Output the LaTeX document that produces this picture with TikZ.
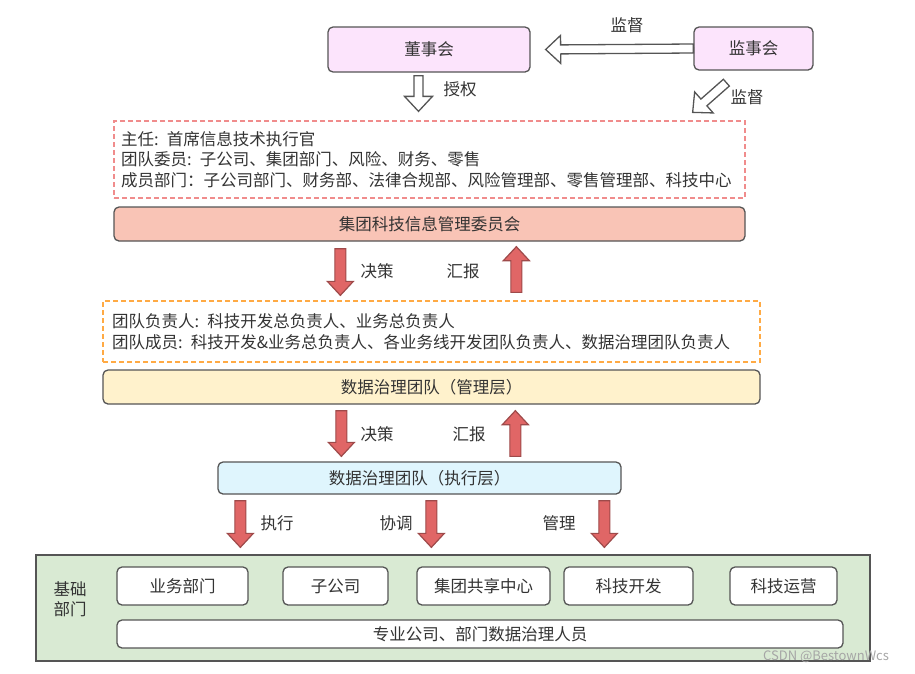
\documentclass[tikz,border=0pt]{standalone}
\usepackage{fontspec}
\newfontfamily\cjk{Noto Sans CJK SC}
\usetikzlibrary{calc, positioning}
\definecolor{txtgray}{HTML}{333333}
\definecolor{edgegray}{HTML}{555555}
\definecolor{pinkfill}{HTML}{FCE4FC}
\definecolor{salmonfill}{HTML}{F9C4B6}
\definecolor{yellowfill}{HTML}{FFF2CC}
\definecolor{cyanfill}{HTML}{DFF5FD}
\definecolor{greenfill}{HTML}{D9EAD3}
\definecolor{reddash}{HTML}{F08C8C}
\definecolor{orangedash}{HTML}{FFAA44}
\definecolor{arrowred}{HTML}{E06666}
\definecolor{arrowedge}{HTML}{9E4A4A}

% block arrow: style, shaft half width, head half width, head length, from, to
\newcommand{\blockarrow}[6]{%
  \coordinate (ba-s) at (#5);
  \coordinate (ba-e) at (#6);
  \coordinate (ba-b) at ($(ba-e)!#4!(ba-s)$);
  \draw[#1] ($(ba-s)!#2!90:(ba-e)$) -- ($(ba-b)!#2!-90:(ba-s)$) -- ($(ba-b)!#3!-90:(ba-s)$)
    -- (ba-e) -- ($(ba-b)!#3!90:(ba-s)$) -- ($(ba-b)!#2!90:(ba-s)$) -- ($(ba-s)!#2!-90:(ba-e)$) -- cycle;
}
\newcommand{\hollowarrow}[2]{\blockarrow{hollow}{4.5pt}{14pt}{15pt}{#1}{#2}}
\newcommand{\redarrow}[2]{\blockarrow{redarr}{5.5pt}{13pt}{14pt}{#1}{#2}}

\begin{document}
\begin{tikzpicture}[
    x=1pt, y=-1pt,
    font=\cjk\fontsize{16.5}{20.5}\selectfont, text=txtgray,
    box/.style={rectangle, rounded corners=5pt, draw=edgegray, line width=1.3pt, inner sep=0pt},
    notebox/.style={rectangle, dash pattern=on 5pt off 3pt, line width=1.3pt, align=left, inner ysep=0pt},
    hollow/.style={draw=edgegray, line width=1.3pt, fill=white, line join=miter},
    redarr/.style={draw=arrowedge, line width=1.2pt, fill=arrowred},
    lbl/.style={inner sep=1pt}
]
\useasboundingbox (0,0) rectangle (915,673);

% top level
\node[box, fill=pinkfill, minimum width=202pt, minimum height=45pt] (board) at (429,49.5) {董事会};
\node[box, fill=pinkfill, minimum width=119pt, minimum height=43pt] (supervisor) at (753.5,48.5) {监事会};

% committee
\node[notebox, draw=reddash, text width=617pt, inner xsep=7pt, minimum height=77pt] (comnote) at (429.5,159.5)
  {主任: 首席信息技术执行官\\团队委员: 子公司、集团部门、风险、财务、零售\\成员部门：子公司部门、财务部、法律合规部、风险管理部、零售管理部、科技中心};
\node[box, fill=salmonfill, minimum width=631pt, minimum height=34pt] (techcom) at (429.5,224) {集团科技信息管理委员会};

% management layer
\node[notebox, draw=orangedash, text width=639pt, inner xsep=9pt, minimum height=61pt] (mgnote) at (431.5,331.5)
  {团队负责人: 科技开发总负责人、业务总负责人\\团队成员: 科技开发\&业务总负责人、各业务线开发团队负责人、数据治理团队负责人};
\node[box, fill=yellowfill, minimum width=657pt, minimum height=34pt] (mgteam) at (431.5,387) {数据治理团队（管理层）};

% execution layer
\node[box, fill=cyanfill, minimum width=403pt, minimum height=32pt] (exteam) at (419.5,478) {数据治理团队（执行层）};

% base departments
\node[rectangle, draw=edgegray, line width=1.3pt, fill=greenfill, minimum width=834pt, minimum height=106pt] (base) at (453,608) {};
\node[align=left, inner sep=0pt, font=\cjk\fontsize{16.5}{20}\selectfont] (baselabel) at (70,599) {基础\\部门};
\node[box, fill=white, minimum width=131pt, minimum height=38pt] (biz) at (182.5,586) {业务部门};
\node[box, fill=white, minimum width=105pt, minimum height=38pt] (subco) at (335.5,586) {子公司};
\node[box, fill=white, minimum width=133pt, minimum height=38pt] (shared) at (483.5,586) {集团共享中心};
\node[box, fill=white, minimum width=129pt, minimum height=38pt] (devel) at (628.5,586) {科技开发};
\node[box, fill=white, minimum width=107pt, minimum height=38pt] (ops) at (783.5,586) {科技运营};
\node[box, fill=white, minimum width=726pt, minimum height=28pt] (staff) at (480,634) {专业公司、部门数据治理人员};

% hollow arrows
\hollowarrow{supervisor.west}{$(board.east)+(15,0)$}
\hollowarrow{$(board.south)+(-10.5,3)$}{$(comnote.north)+(-11,-9)$}
\hollowarrow{$(supervisor.south west)+(33,12)$}{$(comnote.north east)+(-53,-8)$}
\node[lbl] (lsup1) at (627,25) {监督};
\node[lbl] (lauth) at (460,89) {授权};
\node[lbl] (lsup2) at (747,97) {监督};

% red arrows
\redarrow{$(techcom.south west)+(227,7)$}{$(mgnote.north west)+(238,-5)$}
\redarrow{$(mgnote.north west)+(414,-8)$}{$(techcom.south west)+(403,5)$}
\redarrow{$(mgteam.south west)+(239,6)$}{$(exteam.north west)+(124,-5)$}
\redarrow{$(exteam.north west)+(298,-5)$}{$(mgteam.south west)+(413,6)$}
\redarrow{$(exteam.south west)+(23,6)$}{$(base.north west)+(205,-7)$}
\redarrow{$(exteam.south west)+(214,6)$}{$(base.north west)+(396,-7)$}
\redarrow{$(exteam.south west)+(387,6)$}{$(base.north west)+(569,-7)$}
\node[lbl] (ldec1) at (377,271) {决策};
\node[lbl] (lrep1) at (463,271) {汇报};
\node[lbl] (ldec2) at (377,434) {决策};
\node[lbl] (lrep2) at (469,434) {汇报};
\node[lbl] (lexec) at (277,523) {执行};
\node[lbl] (lcoord) at (396,523) {协调};
\node[lbl] (lmanage) at (559,523) {管理};

% watermark
\node[text=gray!70, inner sep=0pt, font=\cjk\fontsize{13}{15}\selectfont] (mark) at (826,657) {CSDN @BestownWcs};
\end{tikzpicture}
\end{document}
